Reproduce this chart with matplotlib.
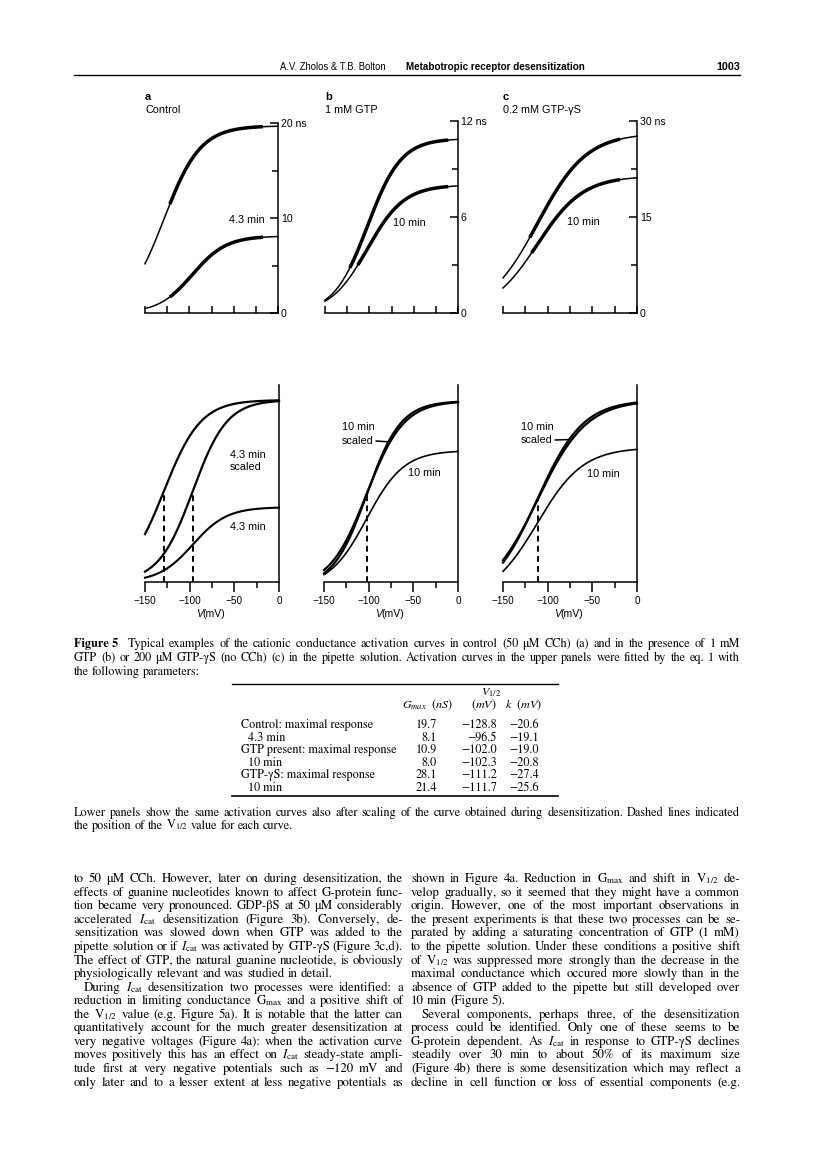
import numpy as np
import matplotlib
matplotlib.use('Agg')
import matplotlib.pyplot as plt
from matplotlib import font_manager
from matplotlib.font_manager import FontProperties
from matplotlib.lines import Line2D

W, H, DPI = 816, 1157, 100

avail = {f.name for f in font_manager.fontManager.ttflist}
SANS = 'Liberation Sans' if 'Liberation Sans' in avail else 'DejaVu Sans'
NARROW = 'Liberation Sans Narrow' if 'Liberation Sans Narrow' in avail else SANS
SERIF = 'STIXGeneral'
plt.rcParams['font.family'] = SANS
plt.rcParams['mathtext.fontset'] = 'stix'

# ---------------- data (fit parameters of eq. 1, from the table) ----------------
row_labels = ['Control: maximal response', '4.3 min', 'GTP present: maximal response',
              '10 min', 'GTP-γS: maximal response', '10 min']
row_indent = [False, True, False, True, False, True]
gmax = [19.7, 8.1, 10.9, 8.0, 28.1, 21.4]
v_half = [-128.8, -96.5, -102.0, -102.3, -111.2, -111.7]
k_slope = [-20.6, -19.1, -19.0, -20.8, -27.4, -25.6]

# extent (mV) of the recorded (noisy) traces in the upper panels
trace_start = [-122, -122, -122, -113, -120, -118]
trace_end = [-17, -17, -11, -11, -19, -19]

upper_xticks = [-150, -125, -100, -75, -50, -25, 0]
upper_yticks = [[0, 10, 20], [0, 6, 12], [0, 15, 30]]
upper_yminor = [[5, 15], [3, 9], [7.5, 22.5]]
upper_ylabels = [['0', '10', '20 ns'], ['0', '6', '12 ns'], ['0', '15', '30 ns']]
lower_xticks = [-150, -100, -50, 0]
lower_xminor = [-125, -75, -25]
lower_xlabels = ['\u2212150', '\u2212100', '\u221250', '0']

panel_letters = ['a', 'b', 'c']
panel_titles = ['Control', '1 mM GTP', '0.2 mM GTP-γS']

# ---------------- figure ----------------
fig = plt.figure(figsize=(W / DPI, H / DPI), dpi=DPI)
fig.patch.set_facecolor('white')
R = fig.canvas.get_renderer()

try:
    from matplotlib.backends.backend_agg import get_hinting_flag
except Exception:
    get_hinting_flag = None


def baseline_err(s, size, weight):
    """pixel offset that Agg's rounding gives to a word's baseline"""
    if '$' in s or get_hinting_flag is None:
        return 0
    try:
        prop = FontProperties(family=SERIF, size=size, weight=weight)
        font = R._prepare_font(prop)
        font.set_text(s, 0, flags=get_hinting_flag())
        _, h64 = font.get_width_height()
        d64 = font.get_descent()
        d = d64 / 64.0
        a = (h64 - d64) / 64.0
        return round(d) - int(np.floor(a + d)) + int(np.floor(a))
    except Exception:
        return 0


def ptext(x, y, s, **kw):
    kw.setdefault('va', 'center')
    return fig.text(x / W, 1 - y / H, s, **kw)


def hline(x0, x1, y, lw=1.0):
    fig.add_artist(Line2D([x0 / W, x1 / W], [1 - y / H, 1 - y / H], lw=lw,
                          color='k', transform=fig.transFigure))


def fit_text(x, y, s, width, **kw):
    t = ptext(x, y, s, **kw)
    w = t.get_window_extent(renderer=R).width
    t.set_fontsize(min(t.get_fontsize() * width / w, 10.5))
    return t


def boltz(v, g, vh, k):
    return g / (1 + np.exp((v - vh) / k))


V = np.linspace(-150, 0, 301)


def make_axes(x0, x1, y0px, scale, ybot, ytop_px):
    ytop = ybot + (y0px - ytop_px) / scale
    ax = fig.add_axes([x0 / W, 1 - y0px / H, (x1 - x0) / W, (y0px - ytop_px) / H])
    ax.set_xlim(-150, 0)
    ax.set_ylim(ybot, ytop)
    ax.patch.set_alpha(0)
    ax.spines['left'].set_visible(False)
    ax.spines['top'].set_visible(False)
    for s in ('right', 'bottom'):
        ax.spines[s].set_linewidth(1.1)
    return ax


# ---------------- header ----------------
fit_text(280, 67, 'A.V. Zholos & T.B. Bolton', 106, family=NARROW, fontsize=8)
fit_text(406, 67, 'Metabotropic receptor desensitization', 180, family=NARROW,
         fontsize=8, weight='bold')
fit_text(740, 67, '1003', 24, family=NARROW, fontsize=8, weight='bold', ha='right')
hline(74, 740, 75, 1.0)

# ---------------- panel titles ----------------
title_x = [145, 325, 503]
for lx, let, tt in zip(title_x, panel_letters, panel_titles):
    ptext(lx, 97, let, fontsize=8, weight='bold')
    ptext(lx, 110, tt, fontsize=7.8)

# ---------------- upper panels ----------------
up_geom = [(145, 278, 9.5), (325, 458, 16.0), (503, 637, 6.4)]
for p, (x0, x1, sc) in enumerate(up_geom):
    ax = make_axes(x0, x1, 313, sc, 0, 108)
    for i in (2 * p, 2 * p + 1):
        ax.plot(V, boltz(V, gmax[i], v_half[i], k_slope[i]), color='k', lw=1.1,
                clip_on=False)
        Vs = V[(V >= trace_start[i]) & (V <= trace_end[i])]
        ax.plot(Vs, boltz(Vs, gmax[i], v_half[i], k_slope[i]), color='k', lw=2.5,
                solid_capstyle='butt', clip_on=False)
    ax.yaxis.tick_right()
    ax.set_yticks(upper_yticks[p])
    ax.set_yticklabels(upper_ylabels[p])
    ax.set_yticks(upper_yminor[p], minor=True)
    ax.spines['right'].set_bounds(0, upper_yticks[p][-1])
    ax.tick_params(axis='y', which='major', direction='in', length=6, width=1.1,
                   labelsize=7.6, pad=2)
    ax.tick_params(axis='y', which='minor', direction='in', length=4, width=1.1)
    ax.set_xticks(upper_xticks)
    ax.set_xticklabels([])
    ax.tick_params(axis='x', direction='in', length=5, width=1.1)

ptext(265, 220, '4.3 min', ha='right', fontsize=7.8)
ptext(393, 223, '10 min', ha='left', fontsize=7.8)
ptext(567, 222, '10 min', ha='left', fontsize=7.8)

# ---------------- lower panels ----------------
# (x0, x1, px per nS, value at x axis)
low_geom = [(145, 279, 9.24, 0.0), (324, 458, 17.08, 0.3), (503, 637, 7.08, 2.4)]
low_axes = []
for p, (x0, x1, sc, yb) in enumerate(low_geom):
    ax = make_axes(x0, x1, 582, sc, yb, 385)
    low_axes.append(ax)
    im, idd = 2 * p, 2 * p + 1
    g_ref = gmax[im]
    lw_thin = 1.5 if p == 0 else 1.2
    ax.plot(V, boltz(V, gmax[im], v_half[im], k_slope[im]), color='k', lw=1.6,
            clip_on=False)
    ax.plot(V, boltz(V, g_ref, v_half[idd], k_slope[idd]), color='k', lw=1.6,
            clip_on=False)
    ax.plot(V, boltz(V, gmax[idd], v_half[idd], k_slope[idd]), color='k', lw=lw_thin,
            clip_on=False)
    # dashed lines at V1/2
    if p == 0:
        for i in (im, idd):
            ax.plot([v_half[i], v_half[i]], [yb, g_ref / 2], color='k', lw=1.4,
                    ls=(0, (3, 2.2)))
    else:
        ax.plot([v_half[im], v_half[im]], [yb, g_ref / 2], color='k', lw=1.4,
                ls=(0, (3, 2.2)))
    ax.set_yticks([])
    ax.set_xticks(lower_xticks)
    ax.set_xticklabels(lower_xlabels)
    ax.set_xticks(lower_xminor, minor=True)
    ax.tick_params(axis='x', which='major', direction='out', length=7, width=1.1,
                   labelsize=7.2, pad=3)
    ax.tick_params(axis='x', which='minor', direction='out', length=4, width=1.1)
    xc = x0 + (x1 - x0) * 0.43
    ptext(xc, 614, 'V', style='italic', ha='right', fontsize=7.6)
    ptext(xc, 614, '(mV)', ha='left', fontsize=7.6)

# labels, lower panels
ptext(230, 455, '4.3 min', fontsize=7.8)
ptext(230, 467, 'scaled', fontsize=7.8)
ptext(230, 527, '4.3 min', fontsize=7.8)
ptext(342, 427, '10 min', fontsize=7.8)
ptext(342, 441, 'scaled', fontsize=7.8)
ptext(408, 473, '10 min', fontsize=7.8)
ptext(521, 427, '10 min', fontsize=7.8)
ptext(521, 440, 'scaled', fontsize=7.8)
ptext(587, 474, '10 min', fontsize=7.8)
for ax, p, (tx, ty) in ((low_axes[1], 1, (376, 441)), (low_axes[2], 2, (555, 440))):
    im, idd = 2 * p, 2 * p + 1
    vx = -76
    ax.annotate('', xy=(vx, boltz(vx, gmax[im], v_half[idd], k_slope[idd])),
                xycoords='data', xytext=(tx, H - ty), textcoords='figure pixels',
                arrowprops=dict(arrowstyle='-', lw=1.1, color='k',
                                shrinkA=0, shrinkB=0))


# ---------------- justified text helper (one Text per word) ----------------
def draw_line(words, x0, x1, yc, size, justify=True, indent=0.0, weight='normal',
              min_gap=2.2):
    ybase = round(yc + 3.3)
    s = size
    for _ in range(12):
        ts = [fig.text(0, 0, w, fontsize=s, family=SERIF, weight=weight,
                       va='baseline', ha='left') for w in words]
        ws = [t.get_window_extent(renderer=R).width for t in ts]
        if justify and len(words) > 1:
            gap = (x1 - x0 - indent - sum(ws)) / (len(words) - 1)
            if gap < min_gap:
                for t in ts:
                    t.remove()
                s *= 0.98
                continue
        else:
            gap = s * DPI / 72 * 0.25
        break
    x = x0 + indent
    for t, w, word in zip(ts, ws, words):
        yb = ybase - baseline_err(word, s, weight)
        t.set_position((x / W, 1 - yb / H))
        x += w + gap


# ---------------- caption ----------------
CAP = 8.8
cap1 = ('Typical examples of the cationic conductance activation curves in control '
        '(50 μM CCh) (a) and in the presence of 1 mM')
cap2 = ('GTP (b) or 200 μM GTP-γS (no CCh) (c) in the pipette solution. Activation '
        'curves in the upper panels were fitted by the eq. 1 with')
cap3 = 'the following parameters:'
yb_fig = round(644 + 3.3) - baseline_err('Figure 5', CAP, 'bold')
tf = fig.text(74 / W, 1 - yb_fig / H, 'Figure 5', fontsize=CAP, family=SERIF,
              weight='bold', va='baseline', ha='left')
wf = tf.get_window_extent(renderer=R).width
draw_line(cap1.split(' '), 74 + wf + 9, 740, 644, CAP)
draw_line(cap2.split(' '), 74, 740, 658, CAP)
draw_line(cap3.split(' '), 74, 740, 672, CAP, justify=False)

# ---------------- table ----------------
TB = 8.7
hline(232, 558, 684, 1.0)
ptext(491, 693, r'$V_{1/2}$', ha='center', fontsize=TB)
ptext(427, 705, r'$G_{max}\ \ (nS)$', ha='center', fontsize=TB)
ptext(484, 705, r'$(mV)$', ha='center', fontsize=TB)
ptext(523, 705, r'$k\ \ (mV)$', ha='center', fontsize=TB)
row_y = [725, 738, 750, 763, 775, 788]


def fmt(v):
    return f'{v:.1f}'.replace('-', '\u2212')


for lab, ind, g, vh, k, y in zip(row_labels, row_indent, gmax, v_half, k_slope, row_y):
    ptext(248 if ind else 241, y, lab, family=SERIF, fontsize=TB)
    ptext(437, y, fmt(g), family=SERIF, fontsize=TB, ha='right')
    ptext(497, y, fmt(vh), family=SERIF, fontsize=TB, ha='right')
    ptext(539, y, fmt(k), family=SERIF, fontsize=TB, ha='right')
hline(232, 558, 796, 1.2)

cap4 = ('Lower panels show the same activation curves also after scaling of the curve '
        'obtained during desensitization. Dashed lines indicated')
cap5 = r'the position of the V$_{1/2}$ value for each curve.'
draw_line(cap4.split(' '), 74, 740, 813, CAP)
draw_line(cap5.split(' '), 74, 740, 826, CAP, justify=False)

# ---------------- body text ----------------
BODY = 9.3
IC = r'$I_{\mathrm{cat}}$'
GM = r'G$_{\mathrm{max}}$'
VH = r'V$_{1/2}$'
left_col = [
    'to 50 μM CCh. However, later on during desensitization, the',
    'effects of guanine nucleotides known to affect G-protein func-',
    'tion became very pronounced. GDP-βS at 50 μM considerably',
    f'accelerated {IC} desensitization (Figure 3b). Conversely, de-',
    'sensitization was slowed down when GTP was added to the',
    f'pipette solution or if {IC} was activated by GTP-γS (Figure 3c,d).',
    'The effect of GTP, the natural guanine nucleotide, is obviously',
    'physiologically relevant and was studied in detail.',
    f'During {IC} desensitization two processes were identified: a',
    f'reduction in limiting conductance {GM} and a positive shift of',
    f'the {VH} value (e.g. Figure 5a). It is notable that the latter can',
    'quantitatively account for the much greater desensitization at',
    'very negative voltages (Figure 4a): when the activation curve',
    f'moves positively this has an effect on {IC} steady-state ampli-',
    'tude first at very negative potentials such as \u2212120 mV and',
    'only later and to a lesser extent at less negative potentials as',
]
right_col = [
    f'shown in Figure 4a. Reduction in {GM} and shift in {VH} de-',
    'velop gradually, so it seemed that they might have a common',
    'origin. However, one of the most important observations in',
    'the present experiments is that these two processes can be se-',
    'parated by adding a saturating concentration of GTP (1 mM)',
    'to the pipette solution. Under these conditions a positive shift',
    f'of {VH} was suppressed more strongly than the decrease in the',
    'maximal conductance which occured more slowly than in the',
    'absence of GTP added to the pipette but still developed over',
    '10 min (Figure 5).',
    'Several components, perhaps three, of the desensitization',
    'process could be identified. Only one of these seems to be',
    f'G-protein dependent. As {IC} in response to GTP-γS declines',
    'steadily over 30 min to about 50% of its maximum size',
    '(Figure 4b) there is some desensitization which may reflect a',
    'decline in cell function or loss of essential components (e.g.',
]
left_last = {7}
left_indent = {8}
right_last = {9}
right_indent = {10}
y0, dy = 879, 13.55
for i, line in enumerate(left_col):
    draw_line(line.split(' '), 74, 403, y0 + i * dy, BODY,
              justify=i not in left_last, indent=10 if i in left_indent else 0)
for i, line in enumerate(right_col):
    draw_line(line.split(' '), 411, 740, y0 + i * dy, BODY,
              justify=i not in right_last, indent=10 if i in right_indent else 0)

fig.savefig('out.png', dpi=DPI)
